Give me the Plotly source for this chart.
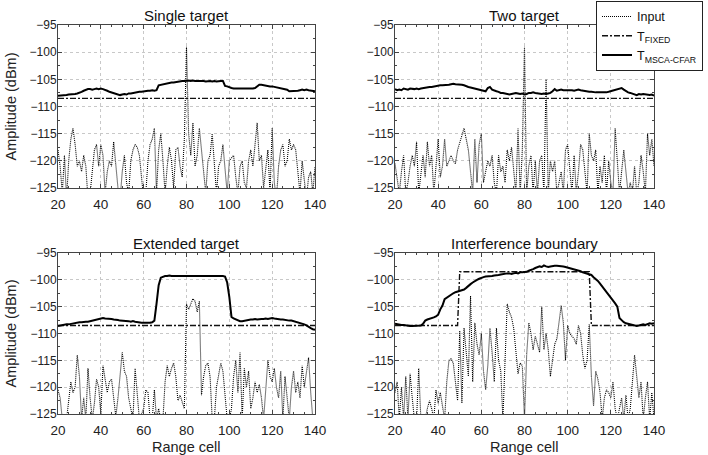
import plotly.graph_objects as go

# ---------------- data ----------------
cells = list(range(20, 141))

titles = ["Single target", "Two target", "Extended target", "Interference boundary"]

input_single = [
    -118, -121, -126, -119, -127, -120, -116, -114, -117, -121,
    -120, -122, -119, -121, -127, -126, -122, -118, -117, -121,
    -117, -119, -126, -122, -120, -121, -116.5, -121, -125, -127,
    -122, -119, -124, -126, -120, -118, -117, -117.5, -119, -123,
    -127, -126, -120, -117, -116, -114, -126, -118, -115, -120,
    -126, -121, -117.5, -120, -125, -118, -117.5, -121, -123, -116,
    -99, -115, -119, -113, -121, -119, -114, -118, -122, -126,
    -120, -119, -115, -122, -126, -121, -120, -117, -122, -126,
    -120, -119.5, -119, -123, -126, -121, -120, -124, -125, -120,
    -118, -121, -117, -113, -120, -119, -125, -121, -118, -126,
    -114, -124, -127, -121, -118, -117, -121, -120, -116, -118,
    -117, -118, -123, -126, -120, -124, -127, -123, -122, -126,
    -121]

input_two = [
    -120.5, -123, -126, -122, -119, -126, -124, -121, -119, -121,
    -116.5, -126, -122, -119, -123, -116.5, -121, -119, -126, -120,
    -116, -123, -121, -116, -121, -120, -119, -120, -120.5, -118,
    -116.5, -115, -114, -116, -118, -122, -126, -116, -124, -117,
    -115, -124, -122, -120, -121, -119, -124, -126, -119, -122,
    -121, -124, -118, -120, -117.5, -122, -126, -114, -126, -118,
    -99, -126, -121, -119, -126, -120, -126, -120, -119, -126,
    -105, -126, -120, -122, -120, -126, -124, -122, -126, -118,
    -117, -121, -126, -119, -126, -122, -117, -118, -122, -126,
    -115, -119, -120, -118, -126, -121, -124, -119, -126, -120,
    -124, -126, -114, -119, -126, -122, -118, -122, -126, -124,
    -126, -121, -126, -124, -119, -122, -126, -115, -119, -116,
    -121]

input_extended = [
    -120.5, -122, -126, -127, -126, -122, -119, -121, -120, -114,
    -118, -126, -122, -126, -116.5, -122, -126, -123, -118.5, -120,
    -125, -116, -119, -121, -119, -118.5, -122, -125.5, -122, -118,
    -113.5, -117, -118, -122, -124, -126, -116.5, -121, -126, -125,
    -124, -120.5, -121, -126, -126, -120.5, -126, -124, -126, -126,
    -119, -116, -118, -116.5, -115.5, -118, -122.5, -121.5, -123, -124,
    -104.5, -105.5, -104.5, -103.5, -104, -106, -104, -121.5, -118, -116,
    -115.5, -118, -126, -126, -120, -118, -115.5, -117, -121, -126,
    -126, -124, -118, -115, -121, -113.5, -126, -116.5, -120, -117,
    -124, -122, -119, -121, -119.5, -122, -126, -120, -115, -118,
    -119, -116.5, -120, -122, -117, -126, -118, -122, -126, -120,
    -117, -121, -119, -122, -116, -120, -117, -114.5, -121, -126,
    -126]

input_interf = [
    -121, -119, -126, -120, -126, -118, -126, -117.5, -122, -126,
    -126, -116.5, -126, -126, -126, -124, -122.5, -124, -126, -120.5,
    -123, -121, -124, -126, -119, -115, -114.7, -115.5, -119, -122.5,
    -109.5, -123, -109, -113, -118, -103, -119, -108, -112, -114,
    -110, -117, -120.5, -116, -109, -113.5, -119, -109, -115, -117,
    -126, -115, -104.5, -106, -107, -109, -114, -117.5, -115.5, -116,
    -126, -114, -108, -110, -113, -110.5, -112, -113.5, -105, -113,
    -110, -113, -118, -115, -112, -111, -108, -104.8, -108, -115,
    -108.5, -110, -110.5, -111, -112, -108.5, -110, -114, -116.5, -115,
    -108.3, -118, -123.5, -117, -118.5, -121, -126, -122, -120.5, -121,
    -122, -119, -124, -126, -124, -122, -126, -121.5, -126, -124,
    -119, -114, -118, -122, -119, -126, -122, -119, -126, -121,
    -126]

cfar_single = [
    -108.0, -108.0, -107.9, -107.9, -107.9, -107.8, -107.8, -107.8, -107.7, -107.6,
    -107.5, -107.3, -107.1, -106.9, -106.8, -106.8, -106.9, -106.8, -106.7, -106.8,
    -106.7, -106.8, -106.9, -107.1, -107.3, -107.4, -107.6, -107.7, -107.8, -107.9,
    -107.8, -107.7, -107.8, -107.6, -107.6, -107.5, -107.5, -107.4, -107.3, -107.3,
    -107.2, -107.2, -107.1, -107.1, -107.0, -107.1, -107.0, -106.1, -106.0, -105.9,
    -105.8, -105.8, -105.7, -105.6, -105.6, -105.5, -105.5, -105.4, -105.3, -105.3,
    -105.2, -105.2, -105.3, -105.2, -105.3, -105.3, -105.2, -105.3, -105.3, -105.4,
    -105.3, -105.3, -105.4, -105.3, -105.4, -105.3, -105.3, -105.3, -106.2, -106.3,
    -106.5, -106.6, -106.7, -106.7, -106.8, -106.7, -106.8, -106.7, -106.8, -106.7,
    -106.8, -106.7, -106.6, -106.3, -106.0, -106.0, -106.1, -106.1, -106.2, -106.3,
    -106.3, -106.4, -106.5, -106.5, -106.6, -106.7, -106.8, -106.9, -107.2, -107.2,
    -107.1, -107.2, -107.1, -107.0, -106.9, -107.0, -106.9, -107.0, -107.1, -107.1,
    -107.2]

cfar_two = [
    -106.8, -107.0, -106.9, -107.0, -106.7, -106.8, -106.9, -106.7, -106.8, -106.8,
    -106.7, -106.8, -106.7, -106.6, -106.5, -106.5, -106.4, -106.4, -106.3, -106.2,
    -106.2, -106.1, -106.1, -106.1, -106.0, -106.0, -105.9, -105.8, -105.9, -105.9,
    -106.0, -106.0, -106.1, -106.3, -106.4, -106.5, -106.6, -106.8, -106.9, -107.0,
    -107.0, -107.1, -107.2, -106.6, -106.4, -106.9, -107.1, -107.2, -107.3, -107.5,
    -107.5, -107.6, -107.7, -107.8, -107.7, -107.6, -107.5, -107.6, -107.7, -107.6,
    -107.8, -107.7, -107.5, -107.5, -107.4, -107.5, -107.6, -107.7, -107.7, -107.6,
    -107.7, -107.6, -107.5, -107.2, -106.8, -107.1, -107.0, -106.9, -107.0, -107.0,
    -107.0, -106.9, -107.0, -107.1, -107.0, -106.9, -107.0, -107.1, -107.2, -107.2,
    -107.3, -107.3, -107.4, -107.4, -107.4, -107.4, -107.5, -107.4, -107.4, -107.3,
    -107.2, -107.1, -107.0, -106.8, -106.7, -106.6, -106.9, -107.2, -107.4, -107.5,
    -107.6, -107.8, -107.9, -107.7, -107.8, -107.7, -107.8, -107.8, -107.9, -107.8,
    -108.0]

cfar_extended = [
    -108.6, -108.5, -108.5, -108.4, -108.3, -108.3, -108.2, -108.1, -108.0, -108.0,
    -107.9, -107.9, -107.8, -107.8, -107.8, -107.7, -107.6, -107.5, -107.3, -107.2,
    -107.2, -107.1, -107.2, -107.2, -107.3, -107.3, -107.4, -107.4, -107.5, -107.6,
    -107.6, -107.6, -107.7, -107.7, -107.8, -107.7, -107.8, -107.9, -107.9, -108.0,
    -108.0, -108.0, -108.1, -108.0, -107.9, -107.6, -104.5, -101.0, -99.6, -99.4,
    -99.3, -99.3, -99.2, -99.3, -99.3, -99.2, -99.3, -99.3, -99.2, -99.3,
    -99.3, -99.3, -99.2, -99.3, -99.3, -99.2, -99.3, -99.3, -99.3, -99.2,
    -99.3, -99.3, -99.3, -99.3, -99.2, -99.3, -99.3, -99.3, -99.4, -100.5,
    -103.2, -106.9, -107.2, -107.4, -107.6, -107.7, -107.7, -107.6, -107.5, -107.5,
    -107.4, -107.4, -107.3, -107.4, -107.3, -107.3, -107.3, -107.2, -107.3, -107.2,
    -107.1, -107.2, -107.3, -107.3, -107.4, -107.4, -107.5, -107.5, -107.6, -107.6,
    -107.7, -107.8, -107.9, -108.0, -108.1, -108.3, -108.5, -108.8, -109.0, -109.2,
    -109.3]

cfar_interf = [
    -108.2, -108.3, -108.3, -108.4, -108.4, -108.5, -108.5, -108.6, -108.6, -108.6,
    -108.6, -108.6, -108.5, -108.2, -107.6, -107.4, -107.3, -107.2, -107.0, -106.8,
    -106.5, -105.5, -104.8, -103.6, -103.3, -103.0, -102.7, -102.5, -102.3, -102.2,
    -102.0, -101.9, -101.8, -101.5, -101.1, -100.8, -100.5, -100.2, -100.0, -99.8,
    -99.6, -99.5, -99.4, -99.4, -99.3, -99.3, -99.2, -99.2, -99.1, -99.0,
    -98.9, -98.9, -98.8, -98.8, -98.9, -98.8, -98.7, -98.8, -98.6, -98.6,
    -98.6, -98.5, -98.3, -98.2, -98.0, -97.8, -97.7, -97.5, -97.6, -97.3,
    -97.5, -97.6, -97.5, -97.4, -97.4, -97.4, -97.4, -97.5, -97.5, -97.6,
    -97.7, -97.8, -97.9, -98.1, -98.2, -98.3, -98.4, -98.6, -98.7, -98.8,
    -98.9, -99.1, -99.5, -99.8, -100.2, -100.7, -101.2, -101.7, -102.3, -102.8,
    -103.3, -103.8, -104.4, -105.0, -107.1, -107.5, -107.9, -108.1, -108.2, -108.4,
    -108.5, -108.6, -108.6, -108.5, -108.4, -108.3, -108.4, -108.2, -108.1, -108.2,
    -108.1]

fixed_x_plain = [20, 140]
fixed_y_plain = [-108.5, -108.5]
fixed_x_interf = [20, 49, 50, 110, 111, 140]
fixed_y_interf = [-108.5, -108.5, -98.5, -98.5, -108.5, -108.5]

x_ticks = [20, 40, 60, 80, 100, 120, 140]
y_ticks = [-95, -100, -105, -110, -115, -120, -125]

x_title = "Range cell"
y_title = "Amplitude (dBm)"

# ---------------- figure ----------------
FONT = "Liberation Sans, Arial, sans-serif"
panels = [
    (input_single, cfar_single, fixed_x_plain, fixed_y_plain),
    (input_two, cfar_two, fixed_x_plain, fixed_y_plain),
    (input_extended, cfar_extended, fixed_x_plain, fixed_y_plain),
    (input_interf, cfar_interf, fixed_x_interf, fixed_y_interf),
]

fig = go.Figure()
for i, (inp, cfar, fx, fy) in enumerate(panels):
    xa = "x" if i == 0 else f"x{i+1}"
    ya = "y" if i == 0 else f"y{i+1}"
    show = (i == 0)
    fig.add_trace(go.Scatter(x=cells, y=inp, mode="lines", name="Input",
                             line=dict(color="#000000", width=1.1, dash="1px,1px"),
                             xaxis=xa, yaxis=ya, showlegend=show))
    fig.add_trace(go.Scatter(x=fx, y=fy, mode="lines", name="T<sub>FIXED</sub>",
                             line=dict(color="#111111", width=1.4, dash="6px,2px,2px,2px"),
                             xaxis=xa, yaxis=ya, showlegend=show))
    fig.add_trace(go.Scatter(x=cells, y=cfar, mode="lines", name="T<sub>MSCA-CFAR</sub>",
                             line=dict(color="#000000", width=2),
                             xaxis=xa, yaxis=ya, showlegend=show))

xdom = [[0, 0.4312], [0.5654, 1.0]]
ydom = [[0.581, 1.0], [0.0, 0.4139]]

def axis_common():
    return dict(showline=True, linecolor="#444444", linewidth=1, mirror="ticks",
                ticks="inside", ticklen=4, tickcolor="#444444",
                showgrid=True, gridcolor="#c8c8c8", griddash="dot", gridwidth=1,
                zeroline=False)

layout = dict(width=708, height=455, plot_bgcolor="white", paper_bgcolor="white",
              margin=dict(l=58, r=54, t=25, b=41, autoexpand=False),
              font=dict(family=FONT, color="#222222"))

annotations = []
for i in range(4):
    r, c = divmod(i, 2)
    xk = "xaxis" if i == 0 else f"xaxis{i+1}"
    yk = "yaxis" if i == 0 else f"yaxis{i+1}"
    ax_x = axis_common()
    ax_x.update(domain=xdom[c], range=[20, 140], tickvals=x_ticks,
                anchor="y" if i == 0 else f"y{i+1}",
                tickfont=dict(family=FONT, size=13.5, color="#222222"),
                ticklabelstandoff=4,
                minor=dict(ticks="inside", ticklen=2, dtick=5, tickcolor="#444444", showgrid=False))
    ax_y = axis_common()
    ax_y.update(domain=ydom[r], range=[-125, -95], tickvals=y_ticks,
                anchor="x" if i == 0 else f"x{i+1}",
                tickfont=dict(family=FONT, size=12, color="#222222"),
                ticklabelstandoff=-2,
                minor=dict(ticks="inside", ticklen=2, dtick=2.5, tickcolor="#444444", showgrid=False))
    layout[xk] = ax_x
    layout[yk] = ax_y
    annotations.append(dict(text=titles[i], xref="paper", yref="paper",
                            x=(xdom[c][0] + xdom[c][1]) / 2, y=ydom[r][1],
                            xanchor="center", yanchor="bottom", yshift=-1, showarrow=False,
                            font=dict(family=FONT, size=15, color="#111111")))
    if r == 1:
        annotations.append(dict(text=x_title, xref="paper", yref="paper",
                                x=(xdom[c][0] + xdom[c][1]) / 2, y=-0.0848,
                                xanchor="center", yanchor="middle", showarrow=False,
                                font=dict(family=FONT, size=14.5, color="#222222")))
    if c == 0:
        annotations.append(dict(text=y_title, xref="paper", yref="paper",
                                x=-0.0772, y=(ydom[r][0] + ydom[r][1]) / 2, textangle=-90,
                                xanchor="center", yanchor="middle", showarrow=False,
                                font=dict(family=FONT, size=14.5, color="#222222")))

layout["annotations"] = annotations
layout["legend"] = dict(x=0.9027, y=1.062, xanchor="left", yanchor="top",
                        bgcolor="white", bordercolor="#222222", borderwidth=1,
                        font=dict(family=FONT, size=12.5, color="#111111"),
                        tracegroupgap=0, itemwidth=30)
fig.update_layout(**layout)

fig.write_html("out.html", config={"displayModeBar": False},
               post_script="document.body.style.margin='0';document.body.style.overflow='hidden';")
